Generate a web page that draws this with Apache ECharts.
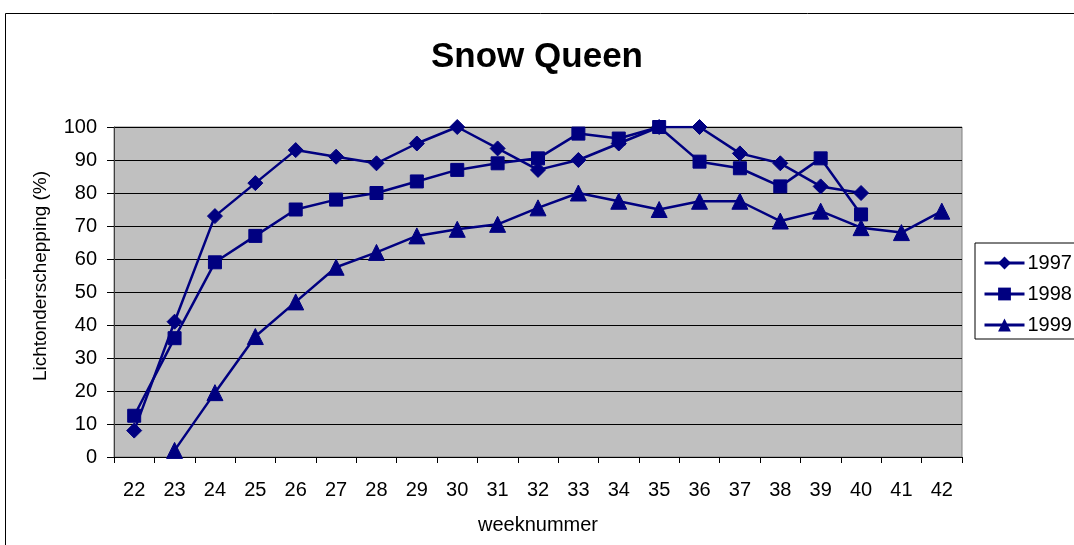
<!DOCTYPE html>
<html>
<head>
<meta charset="utf-8">
<script src="https://cdn.jsdelivr.net/npm/echarts@6/dist/echarts.min.js"></script>
<style>
  html, body { margin: 0; padding: 0; background: #fff; }
  #main { width: 1074px; height: 545px; }
</style>
</head>
<body>
<div id="main"></div>
<script>
// weeknummers op de x-as
var weeks = ['22', '23', '24', '25', '26', '27', '28', '29', '30', '31', '32',
             '33', '34', '35', '36', '37', '38', '39', '40', '41', '42'];

// lichtonderschepping (%) per jaar
var data1997 = [8, 41, 73, 83, 93, 91, 89, 95, 100, 93.5, 87, 90, 95, 100, 100, 92, 89, 82, 80, null, null];
var data1998 = [12.5, 36, 59, 67, 75, 78, 80, 83.5, 87, 89, 90.5, 98, 96.5, 100, 89.5, 87.5, 82, 90.5, 73.5, null, null];
var data1999 = [null, 2, 19.5, 36.5, 47, 57.5, 62, 67, 69, 70.5, 75.5, 80, 77.5, 75, 77.5, 77.5, 71.5, 74.5, 69.5, 68, 74.5];

var yearNames = ['1997', '1998', '1999'];

var myChart = echarts.init(document.getElementById('main'));
var font = 'Liberation Sans, Arial, sans-serif';
var navy = '#000080';

function lineSeries(name, values, symbol, size) {
  return {
    name: name,
    type: 'line',
    data: values,
    symbol: symbol,
    symbolSize: size,
    showSymbol: true,
    lineStyle: { color: navy, width: 2.5 },
    itemStyle: { color: navy, borderColor: navy },
    emphasis: { disabled: true },
    animation: false
  };
}

var option = {
  backgroundColor: '#fff',
  animation: false,
  // titel
  title: {
    text: 'Snow Queen',
    left: 'center',
    top: 35,
    textStyle: { fontFamily: font, fontSize: 35, fontWeight: 'bold', color: '#000' }
  },
  // rand om de hele grafiek
  graphic: [{
    type: 'rect',
    left: 3,
    top: 11,
    shape: { width: 1100, height: 600 },
    style: { fill: 'none', stroke: '#000', lineWidth: 1 },
    silent: true
  }],
  legend: {
    orient: 'vertical',
    left: 975,
    top: 243,
    padding: [10, 40, 4, 8],
    itemWidth: 40,
    itemHeight: 16,
    itemGap: 11,
    borderColor: '#000',
    borderWidth: 1,
    data: yearNames,
    lineStyle: { width: 3 },
    textStyle: { fontFamily: font, fontSize: 20, color: '#000', padding: [0, 0, 0, -2] }
  },
  grid: {
    left: 114,
    right: 112,
    top: 127,
    bottom: 88,
    show: true,
    backgroundColor: '#C0C0C0',
    borderColor: '#808080',
    borderWidth: 1
  },
  xAxis: {
    type: 'category',
    data: weeks,
    boundaryGap: true,
    name: 'weeknummer',
    nameLocation: 'middle',
    nameGap: 58,
    nameTextStyle: { fontFamily: font, fontSize: 20, color: '#000' },
    axisLine: { lineStyle: { color: '#000', width: 1 } },
    axisTick: { show: true, length: 6, lineStyle: { color: '#000' } },
    axisLabel: { fontFamily: font, fontSize: 20, color: '#000', margin: 23 },
    splitLine: { show: false }
  },
  yAxis: {
    type: 'value',
    min: 0,
    max: 100,
    interval: 10,
    name: 'Lichtonderschepping (%)',
    nameLocation: 'middle',
    nameGap: 64,
    nameTextStyle: { fontFamily: font, fontSize: 19, color: '#000', padding: [0, 0, 0, 32] },
    axisLine: { show: true, lineStyle: { color: '#404040', width: 1 } },
    axisTick: { show: true, length: 7, lineStyle: { color: '#000' } },
    axisLabel: { fontFamily: font, fontSize: 20, color: '#000', margin: 17 },
    splitLine: { show: true, lineStyle: { color: '#000', width: 1 } }
  },
  series: [
    lineSeries(yearNames[0], data1997, 'diamond', 15),
    lineSeries(yearNames[1], data1998, 'rect', 13),
    lineSeries(yearNames[2], data1999, 'triangle', 16)
  ]
};

option && myChart.setOption(option);
</script>
</body>
</html>
